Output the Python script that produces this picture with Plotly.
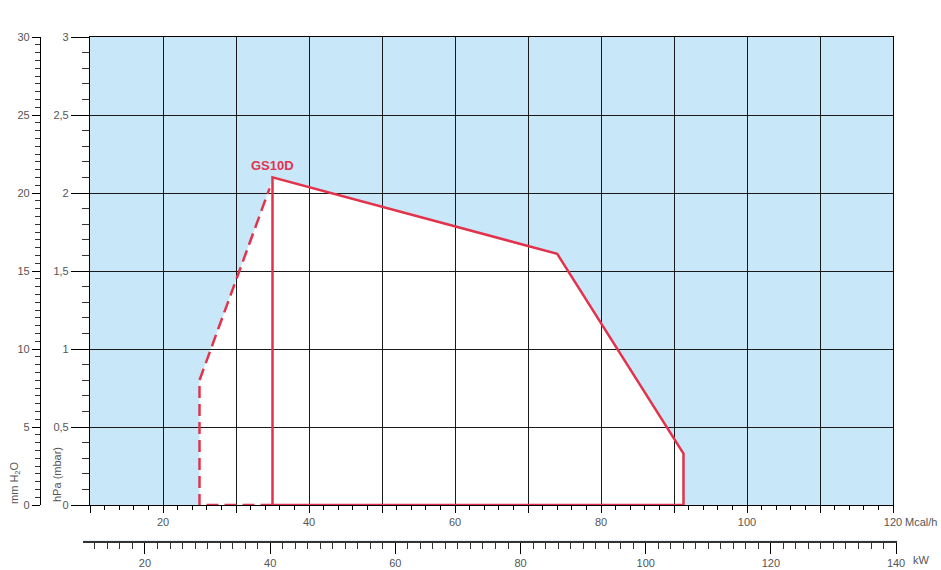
import plotly.graph_objects as go

# ---------------- data ----------------
solid_mcal = [35.0, 35.0, 74.0, 91.3, 91.3, 35.0]
solid_hpa = [0.0, 2.10, 1.61, 0.33, 0.0, 0.0]
dashed_mcal = [35.0, 25.0, 25.0, 34.6]
dashed_hpa = [0.0, 0.0, 0.80, 2.03]
series_label = "GS10D"

mcal_range = [10, 120]
hpa_range = [0, 3]
mmh2o_range = [0, 30]
kw_range = [10.1, 140.15]
mcal_tickvals = list(range(10, 121, 10))
mcal_ticktext = [str(v) if v % 20 == 0 else "" for v in mcal_tickvals]

# ---------------- geometry helpers ----------------
W, H = 941, 570
ML, MR, MT, MB = 30, 44, 37, 29
PW = W - ML - MR
PH = H - MT - MB


def fx(p):
    return (p - ML) / PW


def fy(p):
    return (H - MB - p) / PH


RED = "#e2334c"
BLUE = "#c8e8f9"
GRID = "#1a1a1a"
TXT = "#555555"
FONT = "Liberation Sans, Arial, sans-serif"

fig = go.Figure()

# white region under the curves (union of dashed + solid envelope)
fill_x = dashed_mcal[1:] + solid_mcal[1:5]
fill_y = dashed_hpa[1:] + solid_hpa[1:5]
path = "M " + " L ".join(f"{x},{y}" for x, y in zip(fill_x, fill_y)) + " Z"
fig.add_shape(type="path", path=path, xref="x", yref="y", layer="below",
              fillcolor="white", line=dict(width=0))

fig.add_trace(go.Scatter(x=dashed_mcal, y=dashed_hpa, mode="lines",
                         line=dict(color=RED, width=2.5, dash="12px,6px"),
                         hoverinfo="skip", showlegend=False))
fig.add_trace(go.Scatter(x=solid_mcal, y=solid_hpa, mode="lines",
                         line=dict(color=RED, width=2.5),
                         hoverinfo="skip", showlegend=False))
# placeholders so the secondary axes exist
fig.add_trace(go.Scatter(x=[], y=[], yaxis="y2", showlegend=False))
fig.add_trace(go.Scatter(x=[], y=[], xaxis="x2", yaxis="y3", showlegend=False))

tickfont = dict(family=FONT, size=11, color=TXT)

fig.update_layout(
    width=W, height=H, template="none",
    margin=dict(l=ML, r=MR, t=MT, b=MB, pad=0),
    paper_bgcolor="white", plot_bgcolor=BLUE,
    separators=", ",
    font=dict(family=FONT, size=11, color=TXT),
    showlegend=False,
    xaxis=dict(domain=[fx(90), fx(893)], range=mcal_range, anchor="y",
               tickmode="array", tickvals=mcal_tickvals, ticktext=mcal_ticktext,
               ticks="outside", ticklen=7, tickcolor="black", tickwidth=1,
               showgrid=True, gridcolor=GRID, gridwidth=1.2,
               showline=True, linecolor="black", linewidth=1.2, mirror=True,
               zeroline=False, tickfont=tickfont, automargin=False,
               minor=dict(tickmode="linear", tick0=10, dtick=2, ticks="outside",
                          ticklen=4, tickcolor="black", showgrid=False)),
    yaxis=dict(domain=[fy(505), 1], range=hpa_range, anchor="x",
               tickmode="linear", tick0=0, dtick=0.5,
               ticks="outside", ticklen=18, tickcolor="black", tickwidth=1,
               showgrid=True, gridcolor=GRID, gridwidth=1.2,
               showline=True, linecolor="black", linewidth=1.2, mirror=True,
               zeroline=False, tickfont=tickfont, automargin=False,
               minor=dict(tickmode="linear", tick0=0, dtick=0.1, ticks="outside",
                          ticklen=7, tickcolor="#333", showgrid=False)),
    yaxis2=dict(overlaying="y", anchor="free", position=fx(40), side="left",
                range=mmh2o_range, tickmode="linear", tick0=0, dtick=5,
                ticks="outside", ticklen=8, tickcolor="black", tickwidth=1,
                showgrid=False, showline=True, linecolor="black", linewidth=1.2,
                zeroline=False, tickfont=tickfont, automargin=False,
                minor=dict(tickmode="linear", tick0=0, dtick=0.5, ticks="outside",
                           ticklen=5, tickcolor="#333", showgrid=False)),
    xaxis2=dict(domain=[fx(83), 1], range=kw_range, anchor="y3", side="bottom",
                tickmode="linear", tick0=0, dtick=20,
                ticks="outside", ticklen=11, tickcolor="black", tickwidth=1,
                showgrid=False, showline=True, linecolor="#333", linewidth=1.5,
                zeroline=False, tickfont=tickfont, automargin=False,
                minor=dict(tickmode="linear", tick0=0, dtick=2, ticks="outside",
                           ticklen=6, tickcolor="#333", showgrid=False)),
    yaxis3=dict(domain=[0, 0.001], anchor="x2", range=[0, 1], visible=False),
)

fig.add_annotation(x=solid_mcal[1], y=solid_hpa[1], xref="x", yref="y",
                   text=f"<b>{series_label}</b>", showarrow=False,
                   xanchor="center", yanchor="bottom", yshift=2,
                   font=dict(family=FONT, size=13, color=RED))
fig.add_annotation(x=1, y=0, xref="x domain", yref="y domain", text="Mcal/h",
                   showarrow=False, xanchor="left", yanchor="middle",
                   xshift=10, yshift=-17, font=tickfont)
fig.add_annotation(x=1, y=0, xref="paper", yref="paper", text="kW",
                   showarrow=False, xanchor="left", yanchor="middle",
                   xshift=14, yshift=-19, font=tickfont)
fig.add_annotation(x=fx(15), y=fy(482), xref="paper", yref="paper",
                   text="mm H<sub>2</sub>O", textangle=-90, showarrow=False,
                   xanchor="center", yanchor="middle", font=tickfont)
fig.add_annotation(x=fx(57), y=fy(475), xref="paper", yref="paper",
                   text="hPa (mbar)", textangle=-90, showarrow=False,
                   xanchor="center", yanchor="middle", font=tickfont)

fig.write_html("out.html", config={"displayModeBar": False},
               post_script="document.body.style.margin='0';"
                           "document.body.style.overflow='hidden';")
